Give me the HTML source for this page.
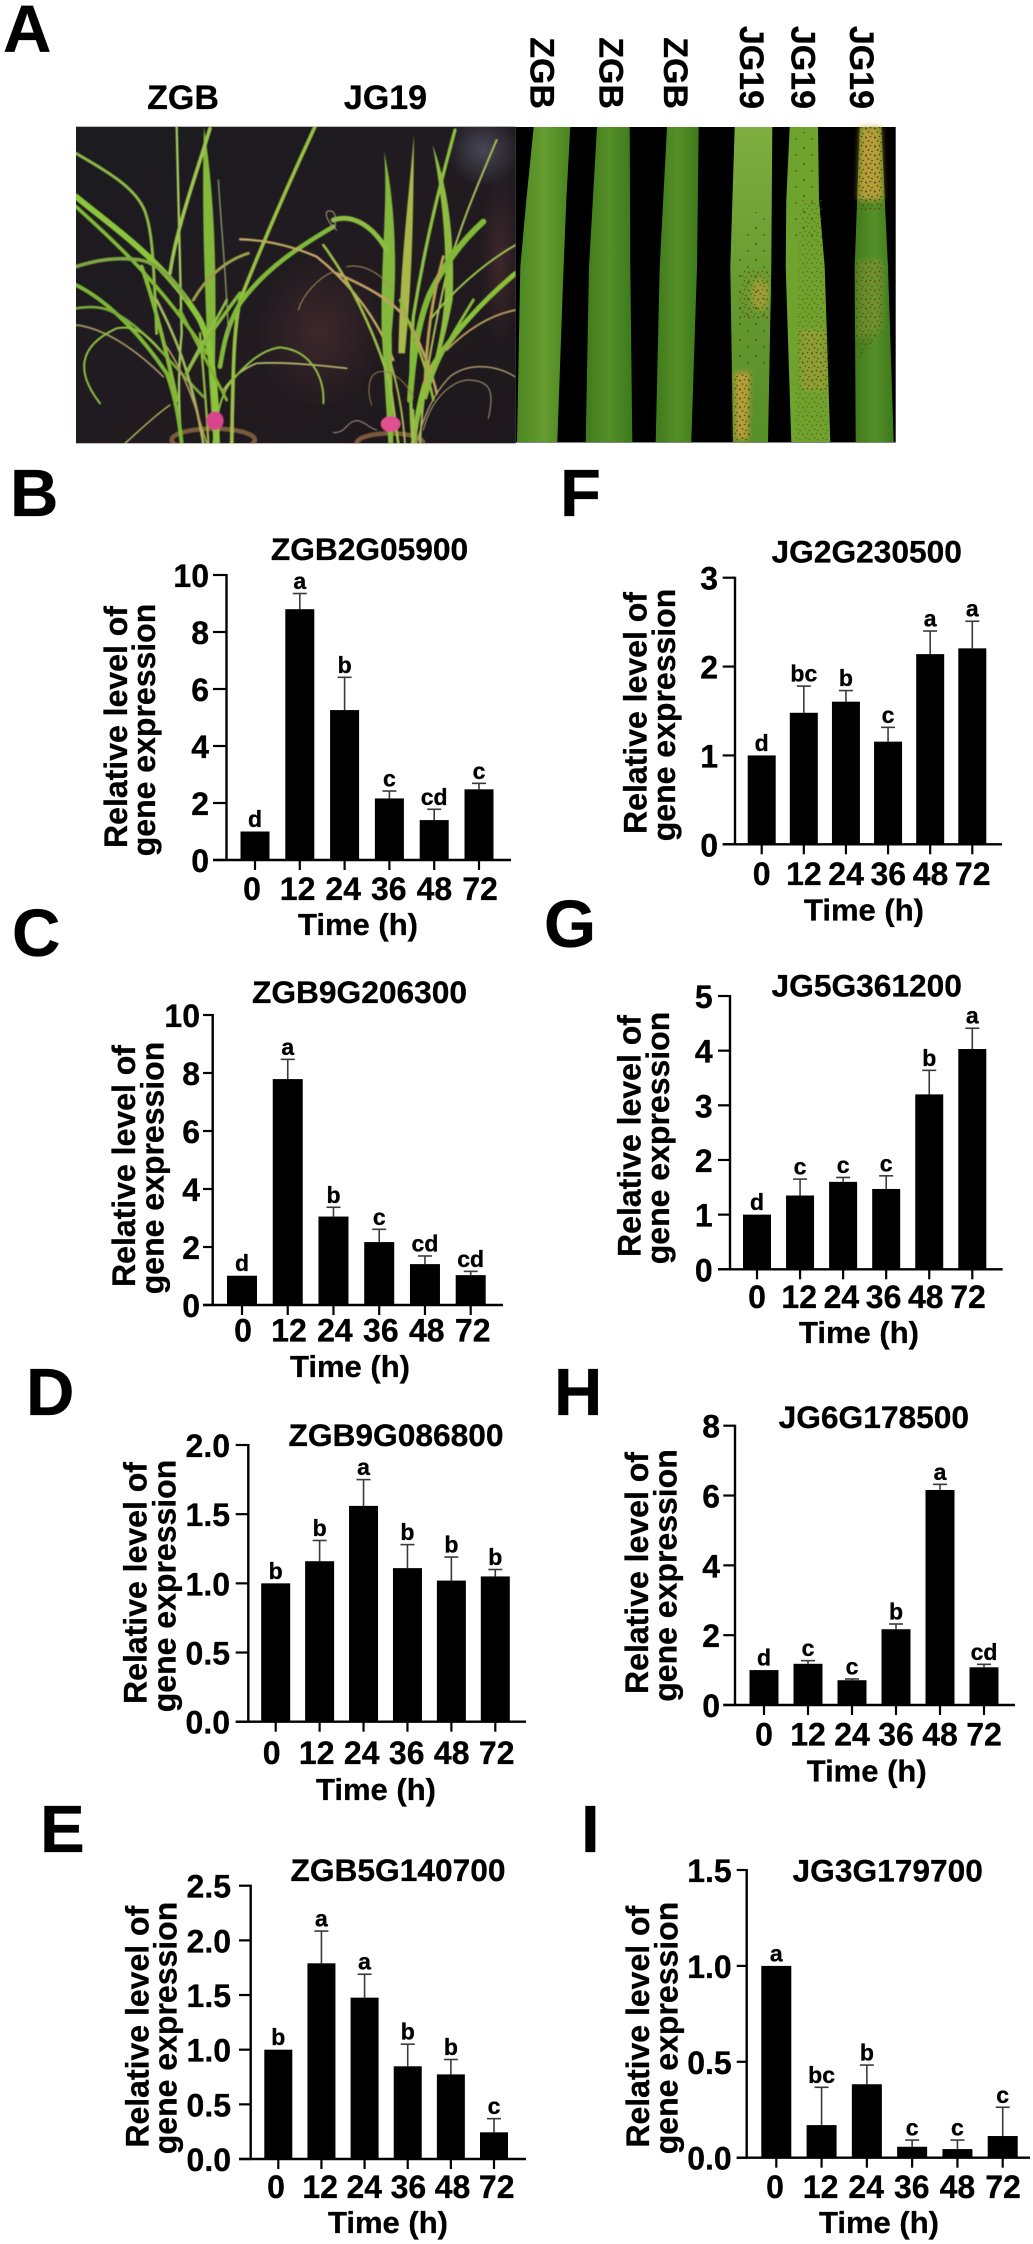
<!DOCTYPE html>
<html lang="en">
<head>
<meta charset="utf-8">
<title>Gene expression figure</title>
<style>
html,body{margin:0;padding:0;background:#fff;}
svg{display:block;}
text{font-family:"Liberation Sans",Arial,sans-serif;font-weight:bold;fill:#000;stroke:#000;stroke-width:.3px;}
</style>
</head>
<body>
<svg id="figure" xmlns="http://www.w3.org/2000/svg" width="1033" height="2244" viewBox="0 0 1033 2244">
<defs>
  <clipPath id="photoClip"><rect x="228" y="380" width="1319" height="950"/></clipPath>
  <filter id="soft" x="-5%" y="-5%" width="110%" height="110%"><feGaussianBlur stdDeviation="1.6"/></filter>
  <filter id="softer" x="-30%" y="-30%" width="160%" height="160%"><feGaussianBlur stdDeviation="3"/></filter>
  <linearGradient id="bgGrad" x1="0" y1="0" x2="1" y2="1">
    <stop offset="0" stop-color="#1b1b20"/><stop offset=".55" stop-color="#211b20"/><stop offset="1" stop-color="#1d181b"/>
  </linearGradient>
  <radialGradient id="sheen" cx=".5" cy=".5" r=".5">
    <stop offset="0" stop-color="#5a5a6e" stop-opacity=".7"/><stop offset="1" stop-color="#5a5a6e" stop-opacity="0"/>
  </radialGradient>
  <radialGradient id="brown" cx=".5" cy=".5" r=".5">
    <stop offset="0" stop-color="#4a2c30" stop-opacity=".7"/><stop offset="1" stop-color="#4a2c30" stop-opacity="0"/>
  </radialGradient>
  <linearGradient id="leafDark" x1="0" y1="0" x2="1" y2="0">
    <stop offset="0" stop-color="#3f7a1c"/><stop offset=".5" stop-color="#568f28"/><stop offset="1" stop-color="#3c7a1a"/>
  </linearGradient>
  <linearGradient id="leafMid" x1="0" y1="0" x2="1" y2="0">
    <stop offset="0" stop-color="#4a8620"/><stop offset=".5" stop-color="#679c30"/><stop offset="1" stop-color="#488420"/>
  </linearGradient>
  <linearGradient id="leafLight" x1="0" y1="0" x2="0" y2="1">
    <stop offset="0" stop-color="#7fae40"/><stop offset=".6" stop-color="#62982e"/><stop offset="1" stop-color="#568e28"/>
  </linearGradient>
  <pattern id="spots" width="9" height="9" patternUnits="userSpaceOnUse">
    <circle cx="2" cy="2.5" r="1.1" fill="#6e4a18"/><circle cx="6.5" cy="1.5" r=".8" fill="#5a3c14"/>
    <circle cx="4.5" cy="6" r="1" fill="#7a5418"/><circle cx="8" cy="7.5" r=".8" fill="#5a3c14"/>
  </pattern>
  <pattern id="sparseSpots" width="16" height="16" patternUnits="userSpaceOnUse">
    <circle cx="4" cy="4" r="1" fill="#5e4a1a"/><circle cx="12" cy="11" r=".9" fill="#5e4a1a"/>
  </pattern>
</defs>

<text x="3" y="52" font-size="67">A</text>
<text x="10" y="516" font-size="67">B</text>
<text x="12" y="956" font-size="67">C</text>
<text x="26" y="1415" font-size="67">D</text>
<text x="40" y="1852" font-size="67">E</text>
<text x="560" y="516" font-size="67">F</text>
<text x="544" y="947" font-size="67">G</text>
<text x="554" y="1415" font-size="67">H</text>
<text x="581" y="1852" font-size="67">I</text>

<text x="183" y="109" font-size="34" text-anchor="middle">ZGB</text>
<text x="385.5" y="109" font-size="34" text-anchor="middle">JG19</text>
<text font-size="34" text-anchor="end" transform="translate(530.5 38) rotate(90)" dx="71">ZGB</text>
<text font-size="34" text-anchor="end" transform="translate(599.5 38) rotate(90)" dx="71">ZGB</text>
<text font-size="34" text-anchor="end" transform="translate(664 38) rotate(90)" dx="71">ZGB</text>
<text font-size="34" text-anchor="end" transform="translate(740 27) rotate(90)" dx="82">JG19</text>
<text font-size="34" text-anchor="end" transform="translate(791.5 27) rotate(90)" dx="82">JG19</text>
<text font-size="34" text-anchor="end" transform="translate(850 27) rotate(90)" dx="82">JG19</text>

<g>
  <rect x="76" y="126.7" width="439.7" height="316.6" fill="url(#bgGrad)"/>
  <g transform="scale(0.33333)" fill="none" stroke-linecap="round" clip-path="url(#photoClip)">
    <ellipse cx="1450" cy="450" rx="110" ry="110" fill="url(#sheen)"/>
    <ellipse cx="960" cy="1000" rx="190" ry="230" fill="url(#brown)"/>
    <ellipse cx="1500" cy="780" rx="60" ry="260" fill="url(#brown)"/>
    <g filter="url(#soft)">
    <ellipse cx="640" cy="1320" rx="125" ry="34" stroke="#7a5a3a" stroke-width="14" stroke-dasharray="6 5"/>
    <ellipse cx="1170" cy="1330" rx="100" ry="30" stroke="#7a5a3a" stroke-width="14" stroke-dasharray="6 5"/>
    <g>
      <path d="M228,975 C320,985 420,1060 490,1130" stroke="#a89868" stroke-width="5"/>
      <path d="M1040,1105 C950,1095 850,1085 770,1090 C720,1110 690,1140 670,1170" stroke="#b8b870" stroke-width="5"/>
      <path d="M530,380 C535,600 540,800 545,1000 C530,1150 540,1280 545,1330" stroke="#a4c85a" stroke-width="7"/>
      <path d="M612,380 C605,600 612,820 625,1100 L640,1330 L660,1330 L645,1100 C650,800 645,600 612,380 Z" fill="#84b83a"/>
      <path d="M630,385 C590,520 530,680 510,820" stroke="#9cc450" stroke-width="11"/>
      <path d="M945,380 C880,520 800,700 720,900 C700,1000 700,1100 695,1330" stroke="#98c040" stroke-width="11"/>
      <path d="M228,460 C330,520 420,570 440,650 C455,700 460,760 470,1000" stroke="#8cb844" stroke-width="9"/>
      <path d="M228,590 C350,690 500,790 600,960 C640,1040 650,1200 650,1330" stroke="#8cc43a" stroke-width="18"/>
      <path d="M228,620 C350,730 480,850 620,1060" stroke="#7fb834" stroke-width="11"/>
      <path d="M228,800 C290,780 350,770 420,780 C480,790 540,860 560,900" stroke="#7ea642" stroke-width="11"/>
      <path d="M228,855 C320,900 420,1000 500,1120 C530,1200 540,1280 545,1330" stroke="#7cb636" stroke-width="12"/>
      <path d="M228,925 C290,915 330,920 400,975 C470,1030 540,1120 610,1190" stroke="#78a83a" stroke-width="8"/>
      <path d="M300,1210 C230,1120 230,1040 350,985 C400,975 440,1000 480,1050" stroke="#8cc040" stroke-width="6"/>
      <path d="M970,1210 C975,1130 930,1050 840,1042 C780,1050 730,1100 690,1150 C660,1190 650,1250 640,1330" stroke="#90bc44" stroke-width="6"/>
      <path d="M1000,680 C900,740 800,800 720,910 C680,980 670,1040 660,1100" stroke="#80b838" stroke-width="14"/>
      <path d="M745,760 C680,780 620,830 580,900" stroke="#9ca04a" stroke-width="9"/>
      <path d="M375,1330 C420,1290 460,1250 510,1215" stroke="#b8c860" stroke-width="4"/>
      <path d="M655,540 C665,700 680,850 685,1000" stroke="#8a9a6a" stroke-width="4"/>
      <path d="M425,800 C460,900 500,1050 530,1200" stroke="#86b838" stroke-width="12"/>
      <path d="M470,900 C520,1000 570,1100 610,1330" stroke="#a4b85a" stroke-width="8"/>
      <path d="M540,930 C590,1030 640,1120 680,1200" stroke="#80b030" stroke-width="9"/>
      <path d="M720,880 C660,960 600,1040 560,1120" stroke="#84b838" stroke-width="11"/>
      <path d="M680,900 C640,980 590,1050 570,1100" stroke="#92bc48" stroke-width="8"/>
      <path d="M500,1040 C560,1130 590,1230 620,1330" stroke="#b49a60" stroke-width="5"/>
      <path d="M600,1000 C610,1120 620,1220 625,1330" stroke="#8fb840" stroke-width="7"/>
      <path d="M720,718 C800,720 880,740 950,770 C1050,850 1130,950 1180,1080" stroke="#c2a864" stroke-width="7"/>
    </g>
    <g>
      <path d="M1152,455 C1185,600 1195,800 1175,1000 L1180,1330 L1165,1330 L1145,1000 C1140,800 1165,600 1152,455 Z" fill="#84b83c"/>
      <path d="M1242,405 C1240,600 1240,800 1215,1060 L1195,1060 C1200,800 1225,600 1242,405 Z" fill="#a8b84a"/>
      <path d="M1365,390 C1330,520 1280,700 1240,950 C1230,1100 1230,1250 1240,1330" stroke="#8cc040" stroke-width="10"/>
      <path d="M1490,420 C1430,560 1380,680 1340,820 C1300,1000 1270,1150 1260,1330" stroke="#a8bc58" stroke-width="6"/>
      <path d="M1298,435 C1345,560 1365,720 1358,900 C1340,1000 1310,1100 1280,1200 L1270,1190 C1310,1080 1335,950 1335,850 C1340,700 1320,560 1298,435 Z" fill="#8ebc40"/>
      <path d="M1450,665 C1400,710 1340,780 1290,880 C1260,950 1240,1050 1230,1200" stroke="#80b838" stroke-width="18"/>
      <path d="M1000,660 C1060,640 1120,680 1160,750" stroke="#8cbc40" stroke-width="15"/>
      <path d="M1547,820 C1450,900 1350,1010 1290,1110 C1260,1180 1250,1260 1240,1330" stroke="#88c038" stroke-width="15"/>
      <path d="M1547,735 C1450,790 1350,880 1290,960" stroke="#9cc04c" stroke-width="6"/>
      <path d="M1547,930 C1470,945 1400,990 1340,1050" stroke="#b49a58" stroke-width="6"/>
      <path d="M970,735 C1040,830 1120,980 1170,1150 C1185,1250 1190,1300 1195,1330" stroke="#9cbc48" stroke-width="8"/>
      <path d="M1010,820 C1100,860 1180,900 1230,970 C1270,1050 1300,1130 1310,1180" stroke="#c0a060" stroke-width="8"/>
      <path d="M1000,815 C960,830 910,880 895,930" stroke="#b09058" stroke-width="3"/>
      <path d="M1040,800 C1090,790 1140,820 1170,860" stroke="#a88c58" stroke-width="3"/>
      <path d="M1545,1130 C1480,1090 1400,1090 1350,1130 C1300,1180 1270,1250 1250,1330" stroke="#b4a070" stroke-width="4"/>
      <path d="M1465,1255 C1485,1170 1470,1140 1400,1140 C1340,1150 1290,1210 1270,1290" stroke="#a89878" stroke-width="3"/>
      <path d="M1115,1215 C1100,1170 1105,1120 1140,1115 C1180,1110 1220,1150 1240,1190" stroke="#9a7a50" stroke-width="3"/>
      <path d="M1000,1298 C1040,1300 1040,1260 1075,1262 C1100,1270 1110,1285 1130,1290" stroke="#a09a80" stroke-width="3"/>
      <path d="M1010,690 C985,670 970,640 985,633 C1005,630 1010,650 1005,680" stroke="#a89a80" stroke-width="3"/>
      <path d="M1330,770 C1300,880 1280,1000 1275,1150" stroke="#b8a050" stroke-width="9"/>
      <path d="M1200,900 C1240,1000 1280,1100 1300,1200" stroke="#90b840" stroke-width="8"/>
      <path d="M1420,900 C1360,1000 1320,1060 1290,1150" stroke="#88b83c" stroke-width="9"/>
      <path d="M1170,1080 C1200,1180 1210,1260 1215,1330" stroke="#a8b050" stroke-width="6"/>
      <path d="M1300,1100 C1270,1200 1250,1280 1235,1330" stroke="#90b840" stroke-width="6"/>
    </g>
    <ellipse cx="645" cy="1262" rx="26" ry="28" fill="#d8458a"/>
    <ellipse cx="1172" cy="1272" rx="30" ry="24" fill="#e0508e"/>
    <path d="M698,1200 L698,1330 M1240,1230 L1240,1330" stroke="#a8b858" stroke-width="6"/>
    </g>
  </g>
</g>

<g>
  <rect x="515.7" y="127" width="380" height="315.5" fill="#000"/>
  <polygon points="533.7,127 526.3,200 520.3,267 517,442 557.3,442 563,283 566.3,200 570.3,127" fill="url(#leafMid)"/>
  <polygon points="597,127 589,267 585.7,442 632.3,442 630.3,267 629.7,127" fill="url(#leafDark)"/>
  <polygon points="667,127 659.7,267 655.7,442 691.3,442 697,267 698.7,127" fill="url(#leafDark)"/>
  <polygon points="734.7,127 730.3,267 733,442 768,442 771.3,267 772.3,127" fill="url(#leafLight)"/>
  <polygon points="789.7,127 786.3,200 785.7,267 791.3,442 830.3,442 824.7,267 819,200 818,127" fill="#6ea42e"/>
  <polygon points="859.7,127 854.7,267 855.7,442 893.7,442 888,267 881.3,127" fill="url(#leafDark)"/>
  <g>
    <ellipse cx="760" cy="295" rx="9" ry="16" fill="#c6a63e" opacity=".55" filter="url(#softer)"/>
    <polygon points="742,270 770,270 768,320 738,320" fill="url(#spots)" opacity=".75"/>
    <polygon points="735,372 750,372 748,440 735,440" fill="#c8a23c" opacity=".85" filter="url(#softer)"/>
    <polygon points="735,372 752,372 750,442 734,442" fill="url(#spots)" opacity=".9"/>
    <polygon points="752,212 770,212 768,370 736,370 734,280" fill="url(#sparseSpots)"/>
    <polygon points="796,132 816,132 820,240 788,240" fill="url(#sparseSpots)"/>
    <polygon points="800,200 822,200 828,440 795,440" fill="url(#spots)" opacity=".55"/>
    <polygon points="800,330 825,330 827,390 802,390" fill="#b79c3a" opacity=".4" filter="url(#softer)"/>
    <polygon points="798,330 827,330 829,390 800,390" fill="url(#spots)" opacity=".8"/>
    <polygon points="860,127 881,127 883,200 858,200" fill="#c4a43c" opacity=".85" filter="url(#softer)"/>
    <polygon points="859.7,127 881.3,127 884,210 857,210" fill="url(#spots)"/>
    <polygon points="857,260 884,260 882,330 857,340" fill="#94a03a" opacity=".35" filter="url(#softer)"/>
    <polygon points="856,260 884,260 882,330 860,360 856,340" fill="url(#spots)" opacity=".85"/>
  </g>
</g>

<g id="charts"></g>
</svg>

<script>
const timeCategories = ['0', '12', '24', '36', '48', '72'];

const zgb2gTicks = ['0', '2', '4', '6', '8', '10'];
const zgb2gValues = [1.0, 8.8, 5.26, 2.16, 1.40, 2.48];
const zgb2gErrors = [0, 0.55, 1.15, 0.26, 0.38, 0.21];
const zgb2gLetters = ['d', 'a', 'b', 'c', 'cd', 'c'];

const zgb9g2Ticks = ['0', '2', '4', '6', '8', '10'];
const zgb9g2Values = [1.01, 7.79, 3.05, 2.17, 1.41, 1.03];
const zgb9g2Errors = [0, 0.68, 0.32, 0.44, 0.28, 0.13];
const zgb9g2Letters = ['d', 'a', 'b', 'c', 'cd', 'cd'];

const zgb9g0Ticks = ['0.0', '0.5', '1.0', '1.5', '2.0'];
const zgb9g0Values = [1.0, 1.16, 1.56, 1.11, 1.02, 1.05];
const zgb9g0Errors = [0, 0.15, 0.19, 0.17, 0.17, 0.05];
const zgb9g0Letters = ['b', 'b', 'a', 'b', 'b', 'b'];

const zgb5gTicks = ['0.0', '0.5', '1.0', '1.5', '2.0', '2.5'];
const zgb5gValues = [1.0, 1.79, 1.476, 0.848, 0.774, 0.244];
const zgb5gErrors = [0, 0.295, 0.214, 0.202, 0.136, 0.125];
const zgb5gLetters = ['b', 'a', 'a', 'b', 'b', 'c'];

const jg2gTicks = ['0', '1', '2', '3'];
const jg2gValues = [1.0, 1.48, 1.605, 1.155, 2.14, 2.205];
const jg2gErrors = [0, 0.30, 0.125, 0.161, 0.26, 0.305];
const jg2gLetters = ['d', 'bc', 'b', 'c', 'a', 'a'];

const jg5gTicks = ['0', '1', '2', '3', '4', '5'];
const jg5gValues = [1.0, 1.35, 1.60, 1.47, 3.20, 4.03];
const jg5gErrors = [0, 0.30, 0.08, 0.24, 0.44, 0.38];
const jg5gLetters = ['d', 'c', 'c', 'c', 'b', 'a'];

const jg6gTicks = ['0', '2', '4', '6', '8'];
const jg6gValues = [1.0, 1.18, 0.71, 2.17, 6.16, 1.08];
const jg6gErrors = [0, 0.09, 0.035, 0.15, 0.16, 0.085];
const jg6gLetters = ['d', 'c', 'c', 'b', 'a', 'cd'];

const jg3gTicks = ['0.0', '0.5', '1.0', '1.5'];
const jg3gValues = [1.0, 0.17, 0.383, 0.057, 0.045, 0.113];
const jg3gErrors = [0, 0.197, 0.10, 0.035, 0.047, 0.15];
const jg3gLetters = ['a', 'bc', 'b', 'c', 'c', 'c'];

const panels = [
  {id:'zgb2g05900', title:'ZGB2G05900', ticks:zgb2gTicks, values:zgb2gValues, errors:zgb2gErrors, letters:zgb2gLetters,
   frame:{axisX:226.5,yTop:575,y0:860,hStart:213,hEnd:511,first:255,last:479,barW:29,tickEnd:209,titleX:369.5,titleY:560,relX:127,geneX:155,relCy:727,geneCy:730,labelY:900,labelFirst:252,labelLast:480,timeX:358,timeY:935}},
  {id:'zgb9g206300', title:'ZGB9G206300', ticks:zgb9g2Ticks, values:zgb9g2Values, errors:zgb9g2Errors, letters:zgb9g2Letters,
   frame:{axisX:212.7,yTop:1015,y0:1305,hStart:203,hEnd:503,first:242,last:470.7,barW:30,tickEnd:200,titleX:359.5,titleY:1003,relX:135,geneX:163.3,relCy:1166,geneCy:1168,labelY:1341.7,labelFirst:243,labelLast:472.7,timeX:350,timeY:1377}},
  {id:'zgb9g086800', title:'ZGB9G086800', ticks:zgb9g0Ticks, values:zgb9g0Values, errors:zgb9g0Errors, letters:zgb9g0Letters,
   frame:{axisX:248.3,yTop:1445,y0:1721.7,hStart:235.7,hEnd:526,first:275.7,last:495.3,barW:29,tickEnd:230,titleX:396,titleY:1446,relX:146.7,geneX:175.7,relCy:1583,geneCy:1586,labelY:1764,labelFirst:271.7,labelLast:496.7,timeX:376,timeY:1800}},
  {id:'zgb5g140700', title:'ZGB5G140700', ticks:zgb5gTicks, values:zgb5gValues, errors:zgb5gErrors, letters:zgb5gLetters,
   frame:{axisX:250.7,yTop:1885.7,y0:2159,hStart:239,hEnd:526,first:278.3,last:494,barW:28,tickEnd:231,titleX:398,titleY:1881,relX:148.3,geneX:176.7,relCy:2026.7,geneCy:2028,labelY:2198,labelFirst:276,labelLast:496.7,timeX:388,timeY:2233}},
  {id:'jg2g230500', title:'JG2G230500', ticks:jg2gTicks, values:jg2gValues, errors:jg2gErrors, letters:jg2gLetters,
   frame:{axisX:735,yTop:577.7,y0:844.3,hStart:722.7,hEnd:1002,first:761.7,last:972.3,barW:28,tickEnd:718,titleX:866.7,titleY:562.7,relX:646.7,geneX:675,relCy:713,geneCy:715,labelY:885,labelFirst:761.7,labelLast:972.7,timeX:864,timeY:920.7}},
  {id:'jg5g361200', title:'JG5G361200', ticks:jg5gTicks, values:jg5gValues, errors:jg5gErrors, letters:jg5gLetters,
   frame:{axisX:730,yTop:996,y0:1269.3,hStart:718,hEnd:1002.7,first:757,last:972.3,barW:28,tickEnd:712.7,titleX:866.7,titleY:996.7,relX:640.7,geneX:669,relCy:1136,geneCy:1138,labelY:1308,labelFirst:757,labelLast:968,timeX:859,timeY:1343}},
  {id:'jg6g178500', title:'JG6G178500', ticks:jg6gTicks, values:jg6gValues, errors:jg6gErrors, letters:jg6gLetters,
   frame:{axisX:735,yTop:1425.7,y0:1705,hStart:723.3,hEnd:1015,first:764,last:984,barW:29,tickEnd:720,titleX:873.8,titleY:1428,relX:648,geneX:676.7,relCy:1573,geneCy:1575.5,labelY:1745.7,labelFirst:764,labelLast:984,timeX:866.7,timeY:1781.7}},
  {id:'jg3g179700', title:'JG3G179700', ticks:jg3gTicks, values:jg3gValues, errors:jg3gErrors, letters:jg3gLetters,
   frame:{axisX:746.7,yTop:1870,y0:2157.7,hStart:736.7,hEnd:1030,first:776.3,last:1002.7,barW:30,tickEnd:731.7,titleX:887.7,titleY:1881.7,relX:649,geneX:677.3,relCy:2026.7,geneCy:2028,labelY:2198,labelFirst:775,labelLast:1003,timeX:879,timeY:2233}}
];

const SVG_NS = 'http://www.w3.org/2000/svg';
const chartsRoot = document.getElementById('charts');

function makeEl(tag, attrs, parent) {
  const el = document.createElementNS(SVG_NS, tag);
  Object.keys(attrs).forEach(function (k) { el.setAttribute(k, attrs[k]); });
  parent.appendChild(el);
  return el;
}

function drawPanel(panel) {
  const f = panel.frame;
  const maxTick = parseFloat(panel.ticks[panel.ticks.length - 1]);
  const yScale = function (v) { return f.y0 - (v / maxTick) * (f.y0 - f.yTop); };
  const count = timeCategories.length;
  const xScale = function (i) { return f.first + i * (f.last - f.first) / (count - 1); };
  const labelScale = function (i) { return f.labelFirst + i * (f.labelLast - f.labelFirst) / (count - 1); };

  const g = makeEl('g', {}, chartsRoot);
  
  

  const title = makeEl('text', {x: f.titleX, y: f.titleY, 'font-size': 31.7, 'text-anchor': 'middle'}, g);
  title.textContent = panel.title;
  
  

  panel.values.forEach(function (v, i) {
    const cx = xScale(i);
    const top = yScale(v);
    const errTop = yScale(v + panel.errors[i]);

    if (panel.errors[i] > 0) {
      const stem = makeEl('line', {x1: cx, x2: cx, y1: top, y2: errTop, stroke: '#3a3a3a', 'stroke-width': 1.6}, g);
      
      
      const cap = makeEl('line', {x1: cx - 7, x2: cx + 7, y1: errTop, y2: errTop, stroke: '#3a3a3a', 'stroke-width': 1.6}, g);
      
      
    }

    const bar = makeEl('rect', {x: cx - f.barW / 2, y: top, width: f.barW, height: f.y0 - top, fill: '#000'}, g);
    
    

    const letter = makeEl('text', {x: cx, y: errTop - 4.5, 'font-size': 23, 'text-anchor': 'middle'}, g);
    letter.textContent = panel.letters[i];
    
    

    const tick = makeEl('line', {x1: cx, x2: cx, y1: f.y0, y2: f.y0 + 10, stroke: '#000', 'stroke-width': 2.2}, g);
    
    

    const label = makeEl('text', {x: labelScale(i), y: f.labelY, 'font-size': 32, 'text-anchor': 'middle'}, g);
    label.textContent = timeCategories[i];
    
    
  });

  const yAxis = makeEl('line', {x1: f.axisX, x2: f.axisX, y1: f.yTop - 1, y2: f.y0 + 1, stroke: '#000', 'stroke-width': 2.4}, g);
  
  

  const xAxis = makeEl('line', {x1: f.hStart, x2: f.hEnd, y1: f.y0, y2: f.y0, stroke: '#000', 'stroke-width': 2.4}, g);
  
  

  panel.ticks.forEach(function (t) {
    const ty = yScale(parseFloat(t));
    const tick = makeEl('line', {x1: f.hStart, x2: f.axisX, y1: ty, y2: ty, stroke: '#000', 'stroke-width': 2.2}, g);
    
    
    const label = makeEl('text', {x: f.tickEnd, y: ty + 12, 'font-size': 32, 'text-anchor': 'end'}, g);
    label.textContent = t;
    
    
  });

  const yTitle1 = makeEl('text', {'font-size': 32, 'text-anchor': 'middle', transform: 'translate(' + f.relX + ' ' + f.relCy + ') rotate(-90)'}, g);
  yTitle1.textContent = 'Relative level of';
  
  

  const yTitle2 = makeEl('text', {'font-size': 32, 'text-anchor': 'middle', transform: 'translate(' + f.geneX + ' ' + f.geneCy + ') rotate(-90)'}, g);
  yTitle2.textContent = 'gene expression';
  
  

  const xTitle = makeEl('text', {x: f.timeX, y: f.timeY, 'font-size': 31, 'text-anchor': 'middle'}, g);
  xTitle.textContent = 'Time (h)';
  
  
}

panels.forEach(drawPanel);
</script>
</body>
</html>
